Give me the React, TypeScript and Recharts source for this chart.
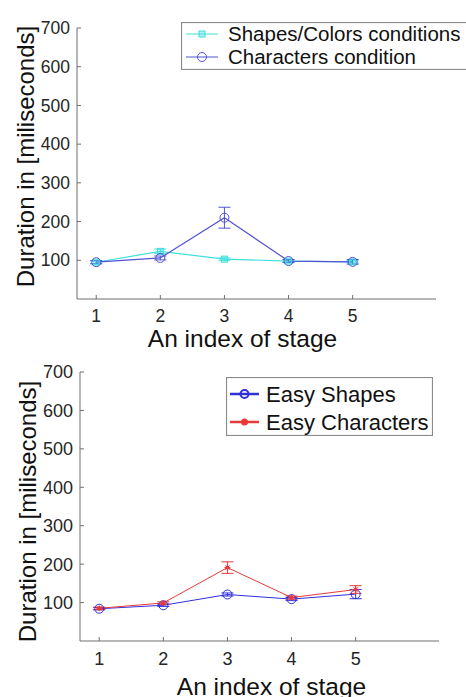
import React from 'react';
import { LineChart, Line, XAxis, YAxis, ErrorBar, Legend } from 'recharts';

const stages = [1, 2, 3, 4, 5];
const stageTicks = [1, 2, 3, 4, 5];
const durationTicks = [100, 200, 300, 400, 500, 600, 700];

// top panel
const shapesColors = [95, 123, 103, 98, 96];
const shapesColorsErr = [4, 6, 3, 3, 3];
const characters = [95, 106, 210, 98, 96];
const charactersErr = [4, 5, 27, 4, 6];

// bottom panel
const easyShapes = [84, 93, 121, 109, 122];
const easyShapesErr = [3, 3, 4, 4, 12];
const easyCharacters = [85, 99, 191, 113, 134];
const easyCharactersErr = [3, 3, 15, 4, 10];

const FONT = '"Liberation Sans", Arial, sans-serif';
const TEXT = '#262626';
const AXIS = '#6e6e6e';

const topData = stages.map((x, i) => ({
  x, a: shapesColors[i], aErr: shapesColorsErr[i], b: characters[i], bErr: charactersErr[i],
}));
const bottomData = stages.map((x, i) => ({
  x, a: easyShapes[i], aErr: easyShapesErr[i], b: easyCharacters[i], bErr: easyCharactersErr[i],
}));

type Kind = 'square' | 'circle' | 'circleBold' | 'star' | 'dot';
type Series = { key: string; errKey: string; name: string; color: string; width: number; marker: Kind; legendMarker: Kind };

const Marker = ({ kind, cx, cy, color }: { kind: Kind; cx: number; cy: number; color: string }) => {
  if (kind === 'square')
    return <rect x={cx - 3} y={cy - 3} width={6} height={6} fill={color} fillOpacity={0.4} stroke={color} strokeWidth={1} />;
  if (kind === 'circle') return <circle cx={cx} cy={cy} r={4.5} fill="none" stroke={color} strokeWidth={1} />;
  if (kind === 'circleBold') return <circle cx={cx} cy={cy} r={4} fill="none" stroke={color} strokeWidth={2} />;
  if (kind === 'dot') return <circle cx={cx} cy={cy} r={3.5} fill={color} />;
  return (
    <g stroke={color} strokeWidth={1}>
      <line x1={cx - 3} y1={cy} x2={cx + 3} y2={cy} />
      <line x1={cx} y1={cy - 3} x2={cx} y2={cy + 3} />
      <line x1={cx - 2.2} y1={cy - 2.2} x2={cx + 2.2} y2={cy + 2.2} />
      <line x1={cx - 2.2} y1={cy + 2.2} x2={cx + 2.2} y2={cy - 2.2} />
      <circle cx={cx} cy={cy} r={1.5} fill={color} />
    </g>
  );
};

type PanelProps = {
  data: any[];
  series: Series[];
  height: number;
  margin: { top: number; right: number; left: number; bottom: number };
  tickFont: number;
  legend: { left: number; top: number; width: number; height: number; rowGap: number; firstRow: number; lineX: [number, number]; textX: number; font: number; lineWidth: number };
  yLabel: { dx: number; dy: number };
  xLabel: { dx: number; baseline: number };
};

const Panel = ({ data, series, height, margin, tickFont, legend, yLabel, xLabel }: PanelProps) => {
  const renderLegend = () => (
    <svg width={legend.width} height={legend.height} style={{ display: 'block', fontFamily: FONT }}>
      <rect x={0.5} y={0.5} width={legend.width - 1} height={legend.height - 1} fill="#fff" stroke="#8a8a8a" strokeWidth={1.2} />
      {series.map((s, i) => {
        const y = legend.firstRow + i * legend.rowGap;
        const mid = (legend.lineX[0] + legend.lineX[1]) / 2;
        return (
          <g key={s.key}>
            <line x1={legend.lineX[0]} y1={y} x2={legend.lineX[1]} y2={y} stroke={s.color} strokeWidth={legend.lineWidth} />
            <Marker kind={s.legendMarker} cx={mid} cy={y} color={s.color} />
            <text x={legend.textX} y={y} dy="0.35em" fontSize={legend.font} fill="#111">{s.name}</text>
          </g>
        );
      })}
    </svg>
  );

  return (
    <LineChart width={466} height={height} data={data} margin={margin} style={{ fontFamily: FONT }}>
      <XAxis
        type="number"
        dataKey="x"
        domain={[0.7, 6.3]}
        ticks={stageTicks}
        allowDataOverflow
        height={30}
        stroke={AXIS}
        tickSize={-4}
        tickMargin={15}
        tick={{ fill: TEXT, fontSize: tickFont, fontFamily: FONT }}
        label={(p: any) => {
          const vb = p.viewBox;
          return (
            <text x={vb.x + vb.width / 2 + xLabel.dx} y={xLabel.baseline} textAnchor="middle" fontSize={24.5} fill="#111" fontFamily={FONT}>
              An index of stage
            </text>
          );
        }}
      />
      <YAxis
        type="number"
        domain={[0, 700]}
        ticks={durationTicks}
        width={45}
        stroke={AXIS}
        tickSize={-4}
        tickMargin={11}
        tick={{ fill: TEXT, fontSize: tickFont, fontFamily: FONT }}
        label={(p: any) => {
          const vb = p.viewBox;
          const x = vb.x + yLabel.dx;
          const y = vb.y + vb.height / 2 + yLabel.dy;
          return (
            <text x={x} y={y} transform={`rotate(-90 ${x} ${y})`} textAnchor="middle" fontSize={24} fill="#111" fontFamily={FONT}>
              Duration in [miliseconds]
            </text>
          );
        }}
      />
      <Legend
        layout="vertical"
        align="center"
        verticalAlign="middle"
        content={renderLegend}
        wrapperStyle={{ left: legend.left, top: legend.top, width: legend.width, height: legend.height }}
      />
      {series.map((s) => (
        <Line
          key={s.key}
          type="linear"
          dataKey={s.key}
          name={s.name}
          stroke={s.color}
          strokeWidth={s.width}
          isAnimationActive={false}
          dot={(d: any) => <Marker key={`${s.key}-${d.index}`} kind={s.marker} cx={d.cx} cy={d.cy} color={s.color} />}
        >
          <ErrorBar dataKey={s.errKey} direction="y" width={6} stroke={s.color} strokeWidth={1} isAnimationActive={false} />
        </Line>
      ))}
    </LineChart>
  );
};

const topSeries: Series[] = [
  { key: 'a', errKey: 'aErr', name: 'Shapes/Colors conditions', color: '#3fdede', width: 1.2, marker: 'square', legendMarker: 'square' },
  { key: 'b', errKey: 'bErr', name: 'Characters condition', color: '#5353d3', width: 1.2, marker: 'circle', legendMarker: 'circle' },
];
const bottomSeries: Series[] = [
  { key: 'a', errKey: 'aErr', name: 'Easy Shapes', color: '#3131db', width: 1, marker: 'circle', legendMarker: 'circleBold' },
  { key: 'b', errKey: 'bErr', name: 'Easy Characters', color: '#e83a3a', width: 1, marker: 'star', legendMarker: 'dot' },
];

export default function App() {
  return (
    <div style={{ position: 'absolute', left: 0, top: 0, width: 466, height: 697, background: '#fff', overflow: 'hidden' }}>
      <div style={{ position: 'absolute', left: 0, top: 0 }}>
        <Panel
          data={topData}
          series={topSeries}
          height={358}
          margin={{ top: 28, right: 30, left: 32, bottom: 29 }}
          tickFont={17.5}
          legend={{ left: 181, top: 22, width: 290, height: 48, rowGap: 23, firstRow: 12, lineX: [5, 37], textX: 47, font: 20.5, lineWidth: 1 }}
          yLabel={{ dx: 2, dy: -7 }}
          xLabel={{ dx: -14, baseline: 347 }}
        />
      </div>
      <div style={{ position: 'absolute', left: 0, top: 350 }}>
        <Panel
          data={bottomData}
          series={bottomSeries}
          height={347}
          margin={{ top: 22, right: 27, left: 35, bottom: 26 }}
          tickFont={18}
          legend={{ left: 226, top: 27, width: 207, height: 59, rowGap: 28, firstRow: 17, lineX: [4, 33], textX: 40, font: 22, lineWidth: 2.5 }}
          yLabel={{ dx: 1, dy: 5 }}
          xLabel={{ dx: 12, baseline: 345 }}
        />
      </div>
    </div>
  );
}
